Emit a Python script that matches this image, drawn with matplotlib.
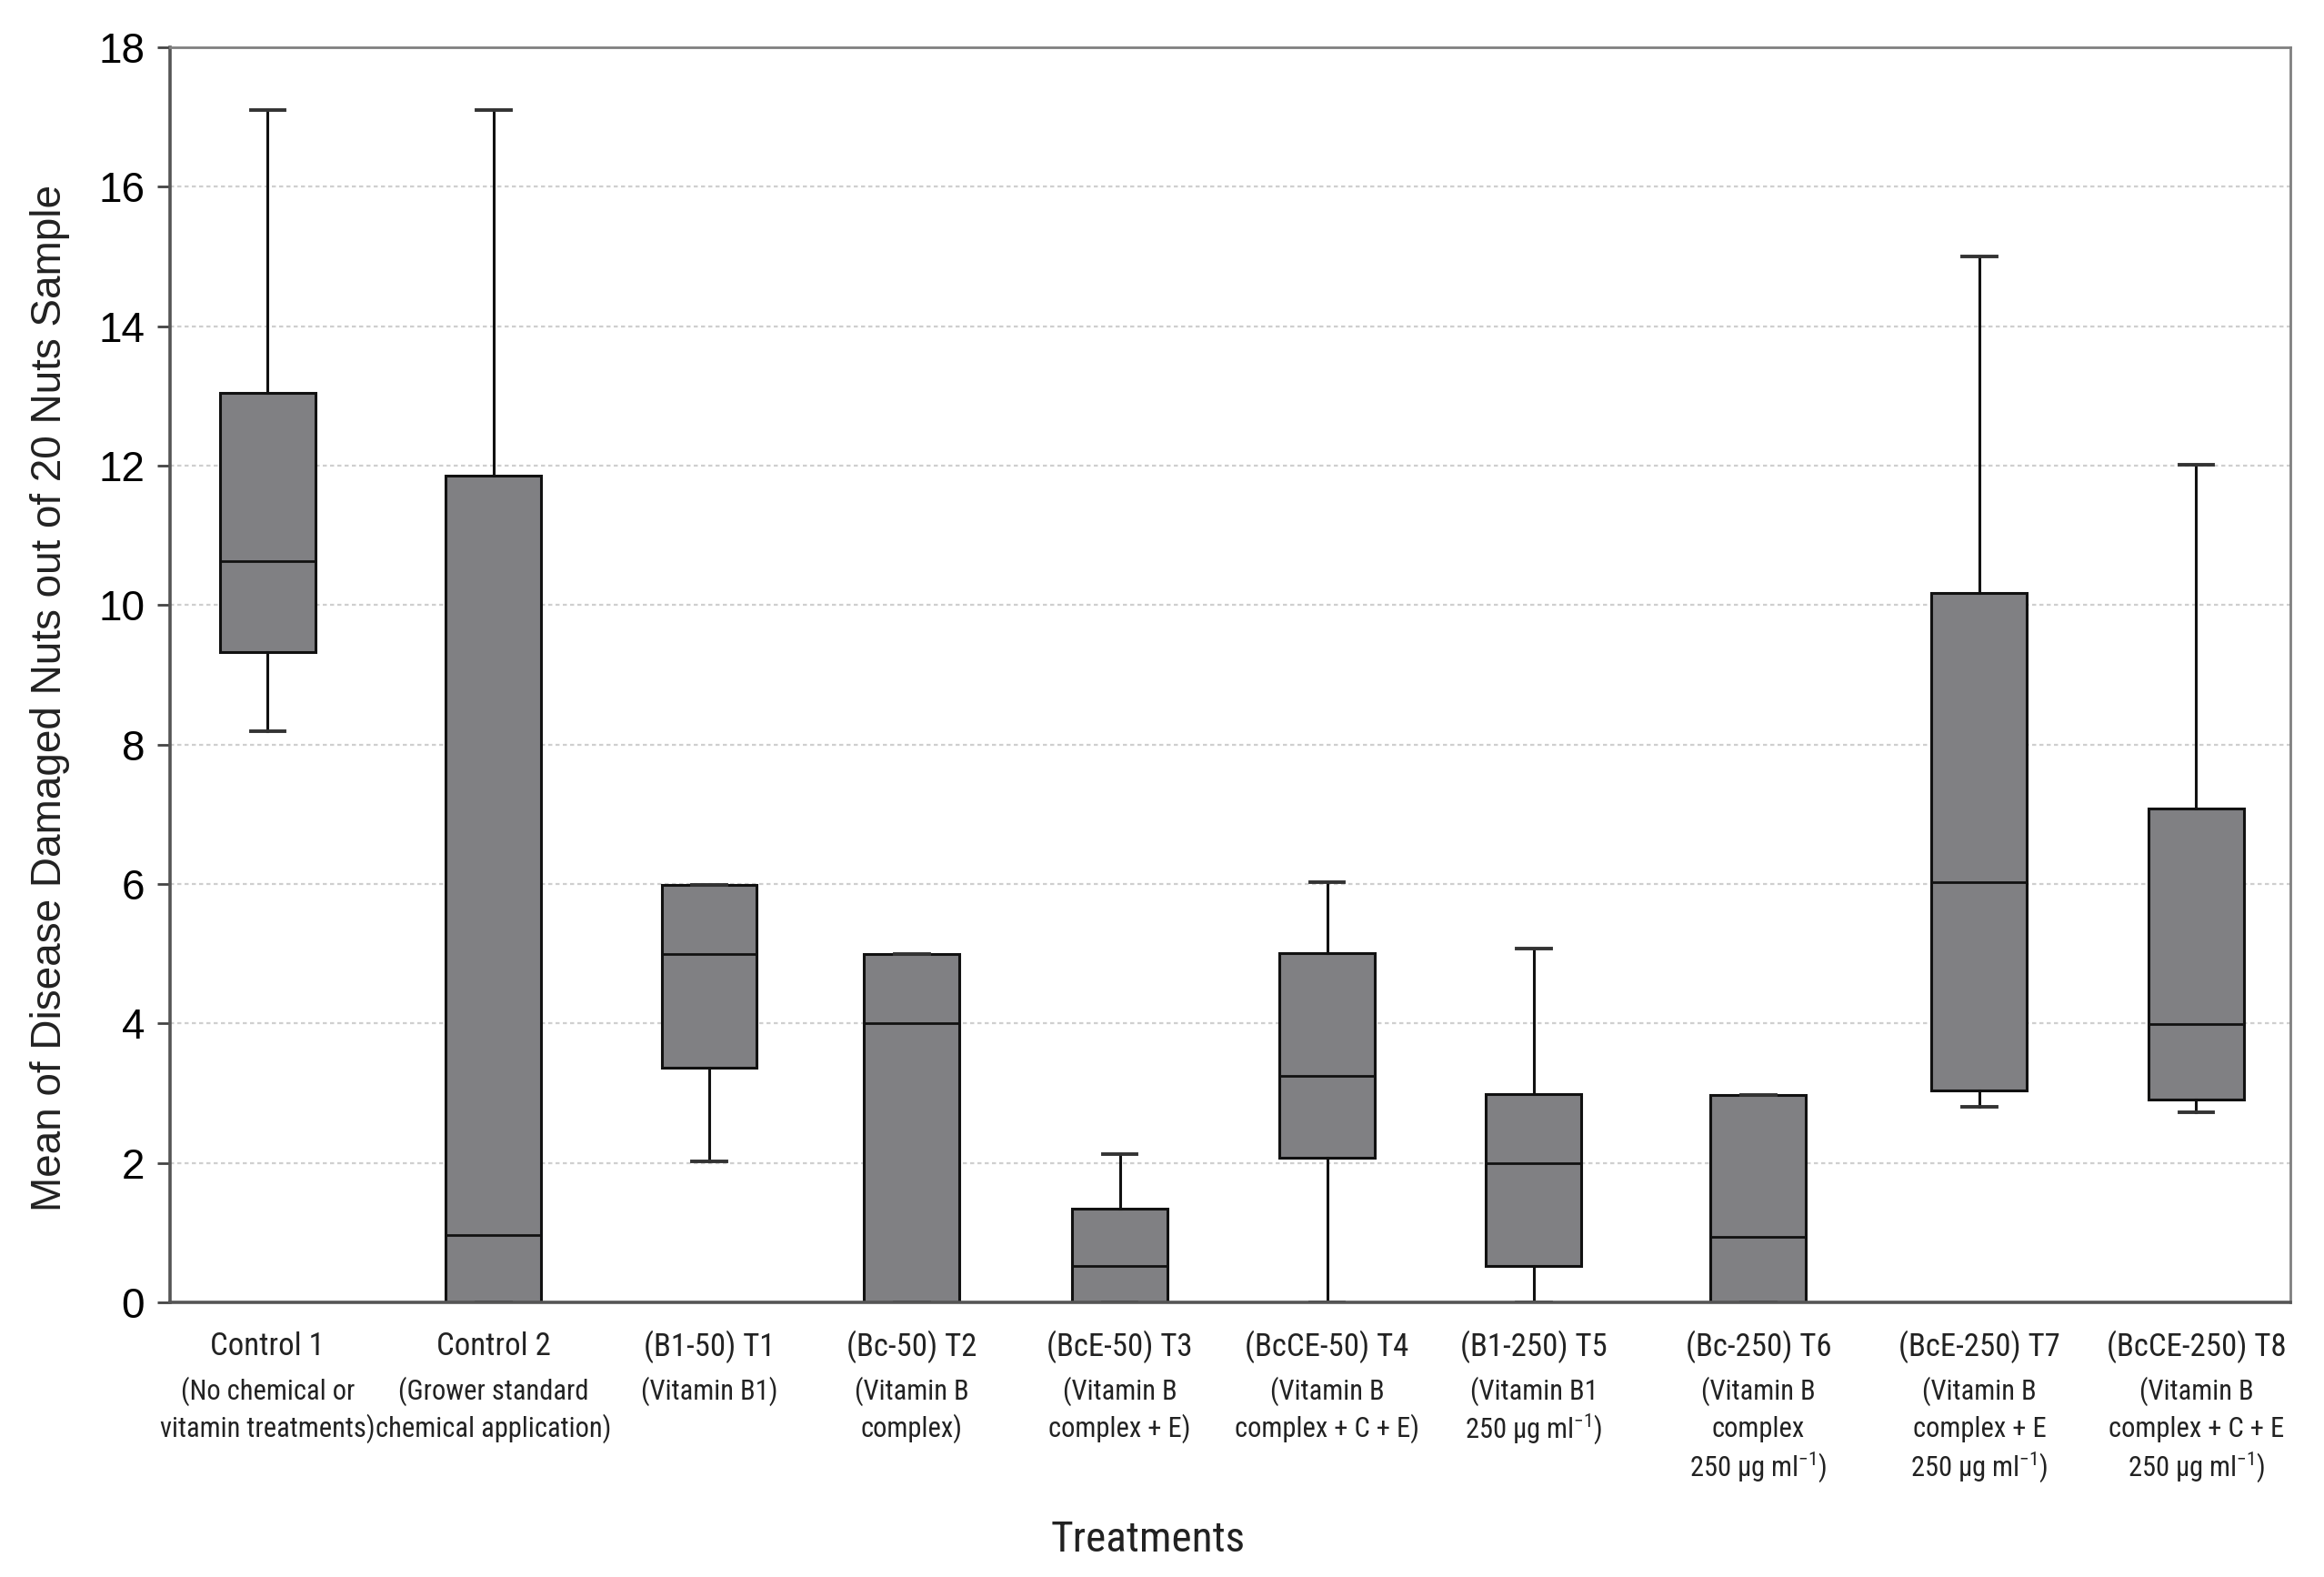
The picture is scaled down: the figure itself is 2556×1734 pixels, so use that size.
import matplotlib
matplotlib.use("Agg")
import matplotlib.pyplot as plt
from matplotlib import transforms, font_manager

# ---------------- data ----------------
treatments = ["Control 1", "Control 2", "(B1-50) T1", "(Bc-50) T2", "(BcE-50) T3",
              "(BcCE-50) T4", "(B1-250) T5", "(Bc-250) T6", "(BcE-250) T7", "(BcCE-250) T8"]
sub_labels = [
    ["(No chemical or", "vitamin treatments)"],
    ["(Grower standard", "chemical application)"],
    ["(Vitamin B1)"],
    ["(Vitamin B", "complex)"],
    ["(Vitamin B", "complex + E)"],
    ["(Vitamin B", "complex + C + E)"],
    ["(Vitamin B1", r"250 μg ml$^{-1}$)"],
    ["(Vitamin B", "complex", r"250 μg ml$^{-1}$)"],
    ["(Vitamin B", "complex + E", r"250 μg ml$^{-1}$)"],
    ["(Vitamin B", "complex + C + E", r"250 μg ml$^{-1}$)"],
]
whisker_low = [8.19, 0.0, 2.02, 0.0, 0.0, 0.0, 0.0, 0.0, 2.81, 2.72]
q1_values   = [9.32, 0.0, 3.36, 0.0, 0.0, 2.08, 0.52, 0.0, 3.04, 2.91]
medians     = [10.63, 0.96, 4.99, 4.0, 0.52, 3.25, 2.0, 0.94, 6.02, 3.99]
q3_values   = [13.05, 11.86, 5.99, 4.99, 1.34, 5.01, 2.99, 2.97, 10.18, 7.08]
whisker_high = [17.1, 17.1, 5.99, 4.99, 2.13, 6.02, 5.08, 2.97, 15.0, 12.01]

y_ticks = [0, 2, 4, 6, 8, 10, 12, 14, 16, 18]
y_label = "Mean of Disease Damaged Nuts out of 20 Nuts Sample"
x_label = "Treatments"

# ---------------- layout ----------------
positions = [0.460, 1.526, 2.543, 3.499, 4.479, 5.457, 6.432, 7.491, 8.533, 9.556]

installed = {f.name for f in font_manager.fontManager.ttflist}
narrow_family = None
for cand in ["Liberation Sans Narrow", "Roboto Condensed", "Arial Narrow"]:
    if cand in installed:
        narrow_family = cand
        break
if narrow_family is not None:
    fs_main, fs_sub, fs_xlab = 12.5, 11.0, 17
    narrow = [narrow_family, "Liberation Sans", "DejaVu Sans"]
else:
    narrow_family = "Liberation Sans"
    fs_main, fs_sub, fs_xlab = 11.0, 9.8, 15.5
    narrow = ["Liberation Sans", "DejaVu Sans"]

plt.rcParams["font.family"] = ["Liberation Sans", "DejaVu Sans"]
plt.rcParams["mathtext.fontset"] = "custom"
plt.rcParams["mathtext.rm"] = narrow_family
plt.rcParams["mathtext.it"] = narrow_family + ":italic"
plt.rcParams["mathtext.bf"] = narrow_family + ":bold"

W, H = 2556, 1734
dpi = 200
fig = plt.figure(figsize=(W / dpi, H / dpi), dpi=dpi, facecolor="white")
L, R, T, B = 187, 2519, 52, 1432
ax = fig.add_axes([L / W, 1 - B / H, (R - L) / W, (B - T) / H])

stats = []
for i in range(len(treatments)):
    stats.append(dict(med=medians[i], q1=q1_values[i], q3=q3_values[i],
                      whislo=whisker_low[i], whishi=whisker_high[i], fliers=[],
                      label=treatments[i]))

ax.bxp(stats, positions=positions, widths=0.45, capwidths=0.16,
       showfliers=False, patch_artist=True,
       boxprops=dict(facecolor="#808083", edgecolor="#111111", linewidth=1.1),
       medianprops=dict(color="#111111", linewidth=1.0),
       whiskerprops=dict(color="#111111", linewidth=1.1),
       capprops=dict(color="#333333", linewidth=1.4),
       zorder=3)

ax.set_xlim(0, 10)
ax.set_ylim(0, 18)
ax.set_yticks(y_ticks)
ax.set_yticklabels([str(v) for v in y_ticks], fontsize=16.5)
ax.set_xticks(positions)
ax.set_xticklabels([""] * len(positions))
ax.tick_params(axis="x", length=0)
ax.tick_params(axis="y", direction="out", length=5, width=1.0, color="#444444", pad=5)

for v in y_ticks[1:-1]:
    ax.axhline(v, color="#cfcfcf", linewidth=0.8, linestyle=(0, (2.0, 1.6)), zorder=1)

for side in ["left", "bottom"]:
    ax.spines[side].set_color("#555555")
    ax.spines[side].set_linewidth(1.3)
for side in ["top", "right"]:
    ax.spines[side].set_color("#808080")
    ax.spines[side].set_linewidth(1.0)
ax.spines["bottom"].set_zorder(4)

# category labels
trans = transforms.blended_transform_factory(ax.transData, fig.transFigure)
line_y = [1481, 1530, 1571, 1613]
for i, name in enumerate(treatments):
    ax.text(positions[i], 1 - line_y[0] / H, name, transform=trans, ha="center",
            va="center", fontsize=fs_main, family=narrow, color="#222222")
    for j, s in enumerate(sub_labels[i]):
        ax.text(positions[i], 1 - line_y[j + 1] / H, s, transform=trans, ha="center",
                va="center", fontsize=fs_sub, family=narrow, color="#222222")

fig.text(55 / W, 1 - 768 / H, y_label, rotation=90, ha="center", va="center",
         fontsize=16.5, color="#222222")
fig.text(1263 / W, 1 - 1693 / H, x_label, ha="center", va="center",
         fontsize=fs_xlab, family=narrow, color="#222222")

fig.savefig("out.png", dpi=dpi, facecolor="white")
